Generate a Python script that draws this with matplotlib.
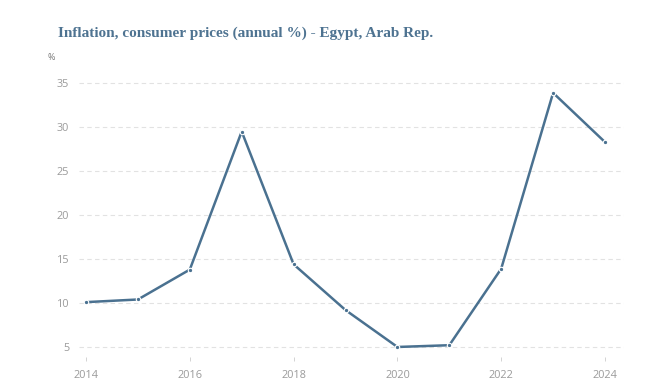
import matplotlib.pyplot as plt

years = [2014, 2015, 2016, 2017, 2018, 2019, 2020, 2021, 2022, 2023, 2024]
inflation = [10.1, 10.4, 13.8, 29.5, 14.4, 9.2, 5.0, 5.2, 13.9, 33.9, 28.3]
yticks = [5, 10, 15, 20, 25, 30, 35]
xticks = [2014, 2016, 2018, 2020, 2022, 2024]

line_col = "#4a7190"
grid_col = "#e2e2e2"
text_col = "#9a9a9a"

fig = plt.figure(figsize=(6.72, 3.79), dpi=100)
ax = fig.add_axes([79 / 672, 22 / 379, 545 / 672, 287 / 379])

ax.plot(years, inflation, color=line_col, lw=1.8, marker="o", ms=3.2,
        markerfacecolor=line_col, markeredgecolor="white", markeredgewidth=0.8,
        zorder=3)

ax.set_xlim(2013.865, 2024.366)
ax.set_ylim(3.86, 36.5)
ax.set_yticks(yticks)
ax.set_xticks(xticks)
ax.set_yticklabels([str(v) for v in yticks])
ax.set_xticklabels([str(v) for v in xticks])

for s in ax.spines.values():
    s.set_visible(False)
ax.yaxis.grid(True, color=grid_col, lw=0.8, ls=(0, (4, 3)))
ax.set_axisbelow(True)
ax.tick_params(axis="y", length=0, pad=7, labelsize=7.8, labelcolor=text_col)
ax.tick_params(axis="x", length=3, width=0.6, color="#cccccc", pad=6,
               labelsize=7.8, labelcolor=text_col)
for lab in ax.get_xticklabels() + ax.get_yticklabels():
    lab.set_family("Open Sans")

fig.text(58 / 672, 1 - 33 / 379, "Inflation, consumer prices (annual %) - Egypt, Arab Rep.",
         family="Liberation Serif", fontweight="bold", fontsize=11,
         color="#4e7391", va="center", ha="left")
fig.text(48 / 672, 1 - 57 / 379, "%", family="Open Sans", fontsize=6.5,
         color="#777777", va="center", ha="left")

fig.savefig("out.png", dpi=100)
